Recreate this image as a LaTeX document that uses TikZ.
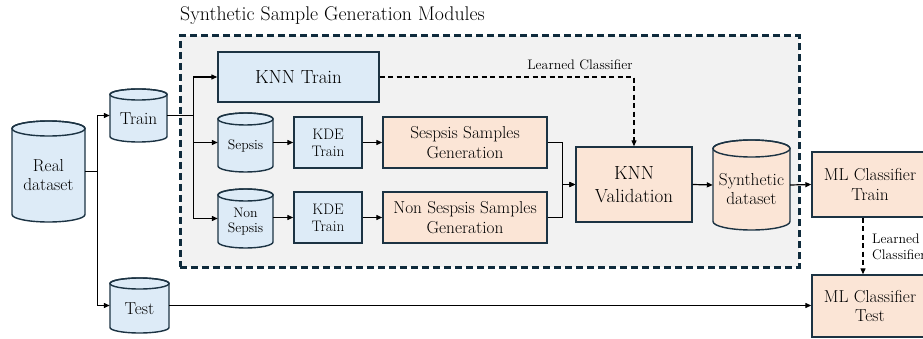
\documentclass[tikz,border=0pt]{standalone}
\usetikzlibrary{arrows.meta}
\definecolor{boxblue}{HTML}{DDEBF7}
\definecolor{boxpeach}{HTML}{FBE5D6}
\definecolor{boxedge}{HTML}{1C3343}
\definecolor{modbg}{HTML}{F2F2F2}
\definecolor{modedge}{HTML}{0F2B3C}
\tikzset{
  blk/.style={draw=boxedge, line width=1.4pt, inner sep=0pt, align=center},
  bluebox/.style={blk, fill=boxblue},
  peachbox/.style={blk, fill=boxpeach},
  cylline/.style={draw=boxedge, line width=1.4pt},
  arr/.style={line width=1.2pt, -{Triangle[length=6pt,width=5pt]}},
  dasharr/.style={arr, dash pattern=on 5pt off 3.5pt},
  fbig/.style={font=\fontsize{19}{22.5}\selectfont},
  fmid/.style={font=\fontsize{17.3}{19.5}\selectfont},
  fkde/.style={font=\fontsize{15.2}{17}\selectfont},
  fsmall/.style={font=\fontsize{13.8}{15.5}\selectfont},
  ftitle/.style={font=\fontsize{19.8}{22}\selectfont},
}
% #1 name, #2 L, #3 R, #4 T, #5 B, #6 r, #7 fill, #8 style, #9 text
\newcommand\cylnode[9]{%
  \filldraw[cylline, fill=#7] (#2,#4+#6) -- (#2,#5-#6)
    arc[start angle=180,end angle=0,x radius={(#3-#2)/2},y radius=#6]
    -- (#3,#4+#6)
    arc[start angle=0,end angle=-180,x radius={(#3-#2)/2},y radius=#6] -- cycle;
  \draw[cylline] ({(#2+#3)/2},#4+#6) ellipse[x radius={(#3-#2)/2},y radius=#6];
  \node[inner sep=0pt, minimum width={(#3-#2)*1pt}, minimum height={(#5-#4)*1pt}] (#1) at ({(#2+#3)/2},{(#4+#5)/2}) {};
  \node[#8, align=center, inner sep=0pt] (#1-label) at ({(#2+#3)/2},{(#4+#5)/2+#6/2}) {#9};
}
\begin{document}
\begin{tikzpicture}[x=1pt,y=-1pt]
\useasboundingbox (0,0) rectangle (923,339);
\clip (0,0) rectangle (923,339);

% module background
\node[draw=modedge, fill=modbg, line width=3pt, dash pattern=on 7pt off 4pt,
      minimum width=619pt, minimum height=231pt, inner sep=0pt] (module) at (489.5,151.5) {};
\node[ftitle, anchor=base west, inner sep=0pt] (title) at (180,21) {Synthetic Sample Generation Modules};

% cylinders
\cylnode{real}{12}{85}{121}{222}{7.5}{boxblue}{fmid}{Real\\dataset}
\cylnode{train}{110}{167}{89}{142}{5.5}{boxblue}{fmid}{Train}
\cylnode{test}{110}{169}{278}{333}{5.5}{boxblue}{fmid}{Test}
\cylnode{sepsis}{218}{273}{113}{172}{6}{boxblue}{fsmall}{Sepsis}
\cylnode{nonsepsis}{218}{273}{189}{248}{6}{boxblue}{fsmall}{Non\\Sepsis}
\cylnode{synth}{713}{790}{140}{230}{8.5}{boxpeach}{fmid}{Synthetic\\dataset}

% boxes
\node[bluebox, fbig, minimum width=161pt, minimum height=50pt] (knntrain) at (298.5,77) {KNN Train};
\node[bluebox, fkde, minimum width=68pt, minimum height=51pt] (kde1) at (328,142.5) {KDE\\Train};
\node[bluebox, fkde, minimum width=68pt, minimum height=51pt] (kde2) at (328,217.5) {KDE\\Train};
\node[peachbox, fmid, minimum width=164pt, minimum height=51pt] (gen1) at (465,142.5) {Sespsis Samples\\Generation};
\node[peachbox, fmid, minimum width=164pt, minimum height=51pt] (gen2) at (465,217.5) {Non Sespsis Samples\\Generation};
\node[peachbox, fbig, minimum width=116pt, minimum height=75pt] (knnval) at (634,184.5) {KNN\\Validation};
\node[peachbox, fmid, minimum width=116pt, minimum height=65pt] (mltrain) at (870,184.5) {ML Classifier\\Train};
\node[peachbox, fmid, minimum width=116pt, minimum height=62pt] (mltest) at (870,306) {ML Classifier\\Test};

% connectors
\draw[arr] (real.east) -- ++(12,0) |- (train.west);
\draw[arr] (real.east) -- ++(12,0) |- (test.west);
\draw[arr] (train.east) -- ++(26,0) |- (knntrain.west);
\draw[arr] (train.east) -- ++(26,0) |- (sepsis.west);
\draw[arr] (train.east) -- ++(26,0) |- (nonsepsis.west);
\draw[arr] (sepsis.east) -- (kde1.west);
\draw[arr] (nonsepsis.east |- kde2.west) -- (kde2.west);
\draw[arr] (kde1.east) -- (gen1.west);
\draw[arr] (kde2.east) -- (gen2.west);
\draw[arr] (gen1.east) -- ++(15,0) |- (knnval.west);
\draw[arr] (gen2.east) -- ++(15,0) |- (knnval.west);
\draw[arr] (knnval.east) -- (synth.west);
\draw[arr] (synth.east) -- (mltrain.west);
\draw[dasharr] (knntrain.east) -- (knnval.north |- knntrain.east) -- (knnval.north);
\node[fsmall, inner sep=0pt] (lc1) at (580,65) {Learned Classifier};
\draw[dasharr] ([xshift=-7pt]mltrain.south) -- ([xshift=-7pt]mltest.north);
\node[fsmall, inner sep=0pt, align=left, anchor=west] (lc2) at (872,247) {Learned\\Classifier};
\draw[arr] (test.east) -- (test.east -| mltest.west);
\end{tikzpicture}
\end{document}
